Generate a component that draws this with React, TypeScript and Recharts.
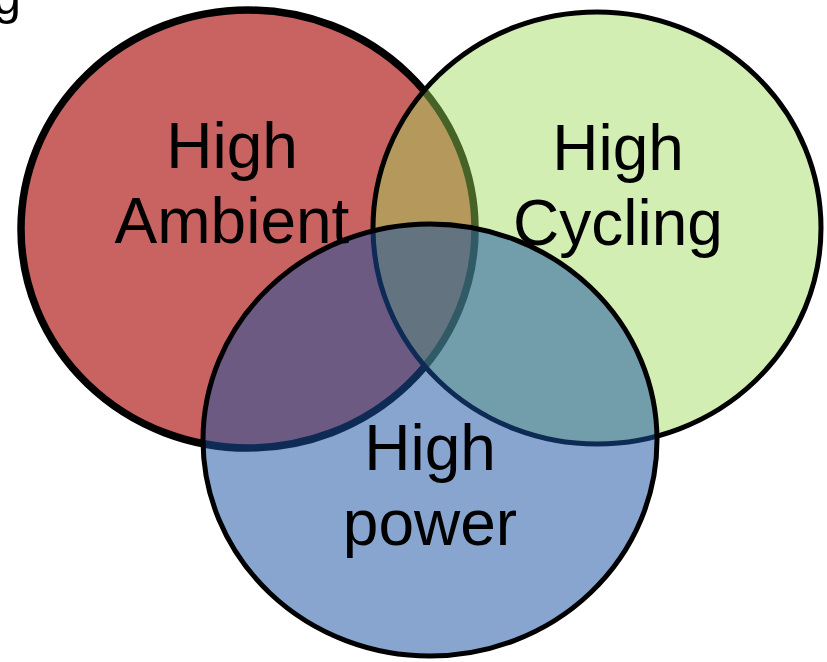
import { Scatter, ScatterChart, XAxis, YAxis } from "recharts";

const W = 827;
const H = 662;

// circle sets (centre + radii in chart units, drawing order = stacking order)
const setNames = ["High Ambient", "High Cycling", "High power"];
const setCx = [248, 597, 430];
const setCy = [229, 228, 440];
const setRx = [227, 224, 227];
const setRy = [219, 216, 216];

// label anchors (baseline of the first line) and lines
const labelLines = [
  ["High", "Ambient"],
  ["High", "Cycling"],
  ["High", "power"],
];
const labelX = [232, 618, 430];
const labelY = [168, 170, 470];

const FILLS = ["#C96361", "rgb(158,218,87)", "rgb(25,83,161)"];
const FILL_OPACITY = [1, 0.45, 0.52];
const STROKE_W = [7.5, 5, 5];

const circles = setNames.map((name, i) => ({
  name,
  x: setCx[i],
  y: setCy[i],
  rx: setRx[i],
  ry: setRy[i],
  idx: i,
}));

const labels = labelLines.map((lines, i) => ({
  x: labelX[i],
  y: labelY[i],
  lines,
}));

// one unit == one pixel with the domains below
const pxX = W / W;
const pxY = H / H;

function EllipseShape(props: any) {
  const { cx, cy, payload } = props;
  const i = payload.idx;
  return (
    <ellipse
      cx={cx}
      cy={cy}
      rx={payload.rx * pxX}
      ry={payload.ry * pxY}
      fill={FILLS[i]}
      fillOpacity={FILL_OPACITY[i]}
      stroke="#000"
      strokeWidth={STROKE_W[i]}
    />
  );
}

function LabelShape(props: any) {
  const { cx, cy, payload } = props;
  return (
    <text
      x={cx}
      y={cy}
      textAnchor="middle"
      fontFamily="'Liberation Sans', Arial, sans-serif"
      fontSize={64}
      fill="#000"
    >
      {payload.lines.map((l: string, k: number) => (
        <tspan key={k} x={cx} dy={k === 0 ? 0 : 75}>
          {l}
        </tspan>
      ))}
    </text>
  );
}

export default function App() {
  return (
    <div style={{ position: "absolute", left: 0, top: 0, width: W, height: H, background: "#fff" }}>
      <ScatterChart width={W} height={H} margin={{ top: 0, right: 0, bottom: 0, left: 0 }}>
        <XAxis type="number" dataKey="x" domain={[0, W]} hide allowDataOverflow />
        <YAxis type="number" dataKey="y" domain={[0, H]} reversed hide allowDataOverflow />
        {circles.map((c) => (
          <Scatter
            key={c.name}
            name={c.name}
            data={[c]}
            shape={EllipseShape}
            isAnimationActive={false}
          />
        ))}
        <Scatter data={labels} shape={LabelShape} isAnimationActive={false} />
      </ScatterChart>
      <svg
        width={40}
        height={40}
        style={{ position: "absolute", left: 0, top: 0, overflow: "visible" }}
      >
        <text x={21} y={14} textAnchor="end" fontFamily="'Liberation Sans', Arial, sans-serif" fontSize={50}>
          g
        </text>
      </svg>
    </div>
  );
}
